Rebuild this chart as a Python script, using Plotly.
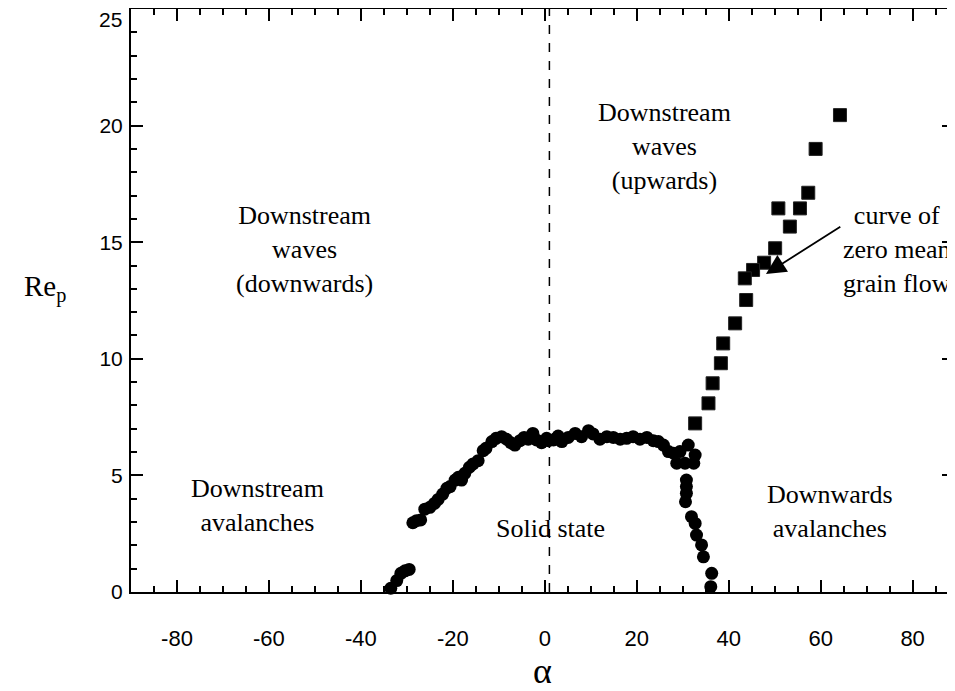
import plotly.graph_objects as go

# ---- data ----
circle_alpha = [-33.5, -32.2, -31.3, -30.4, -29.5,
                -28.7, -27.9, -27.0, -26.1, -25.0, -24.0, -23.2, -22.2, -21.3, -20.6,
                -19.5, -18.8, -18.1, -17.4, -16.4, -15.6, -14.5, -13.4, -12.8, -11.5,
                -10.6, -9.4, -8.3, -7.4, -6.5, -5.4, -4.5, -3.6, -2.6, -1.8, -0.7,
                0.4, 0.8, 1.9, 2.2, 2.9, 3.7, 5.1, 6.6, 8.0, 9.5, 10.5, 12.0, 13.5,
                14.9, 16.4, 17.8, 19.2, 20.7, 22.2, 23.6, 24.7, 25.8, 26.9, 28.0,
                29.4, 31.2, 32.7, 28.7, 30.5, 32.4,
                30.8, 30.8, 30.8, 30.6, 31.9, 32.7, 33.0, 34.1, 34.5, 36.3, 36.1]
circle_rep = [0.16, 0.49, 0.80, 0.91, 0.97,
              2.97, 3.06, 3.09, 3.55, 3.63, 3.80, 3.97, 4.20, 4.45, 4.52,
              4.80, 4.92, 4.80, 5.09, 5.35, 5.49, 5.63, 6.06, 6.16, 6.45,
              6.59, 6.66, 6.55, 6.40, 6.30, 6.49, 6.63, 6.55, 6.80, 6.52, 6.40,
              6.59, 6.49, 6.52, 6.55, 6.69, 6.45, 6.63, 6.80, 6.66, 6.92, 6.78, 6.55, 6.66,
              6.63, 6.55, 6.59, 6.66, 6.55, 6.63, 6.49, 6.45, 6.30, 6.02, 5.95,
              6.02, 6.30, 5.87, 5.52, 5.52, 5.52,
              4.80, 4.52, 4.23, 3.87, 3.23, 2.94, 2.44, 2.02, 1.51, 0.80, 0.23]

square_alpha = [64.2, 58.9, 57.3, 50.8, 55.5, 53.3, 50.1, 47.7, 45.3, 43.5,
                43.8, 41.4, 38.8, 38.3, 36.5, 35.6, 32.7]
square_rep = [20.45, 19.0, 17.12, 16.45, 16.45, 15.67, 14.74, 14.12, 13.81, 13.45,
              12.52, 11.52, 10.66, 9.81, 8.95, 8.09, 7.23]

x_tickvals = [-80, -60, -40, -20, 0, 20, 40, 60, 80]
x_ticktext = ["-80", "-60", "-40", "-20", "0", "20", "40", "60", "80"]
y_tickvals = [0, 5, 10, 15, 20, 25]
y_ticktext = ["0", "5", "10", "15", "20", ""]   # top label drawn separately (shifted down)
y_top_label = "25"

divider_alpha = 1

region_labels = [
    ("Downstream<br>waves<br>(downwards)", -52.2, 14.7),
    ("Downstream<br>waves<br>(upwards)", 26.1, 19.1),
    ("curve of<br>zero mean<br>grain flow", 76.6, 14.67),
    ("Downstream<br>avalanches", -62.4, 3.69),
    ("Solid state", 1.3, 2.74),
    ("Downwards<br>avalanches", 62.0, 3.47),
]
arrow_head = (48.1, 13.64)
arrow_tail = (64.6, 15.7)

serif = "Liberation Serif, Times New Roman, serif"
sans = "Liberation Sans, Arial, Helvetica, sans-serif"

fig = go.Figure()
fig.add_trace(go.Scatter(
    x=circle_alpha, y=circle_rep, mode="markers",
    marker=dict(symbol="circle", size=13, color="black", line=dict(width=0)),
    cliponaxis=False, showlegend=False))
fig.add_trace(go.Scatter(
    x=square_alpha, y=square_rep, mode="markers",
    marker=dict(symbol="square", size=13, color="black", line=dict(color="#222", width=1)),
    cliponaxis=False, showlegend=False))

fig.add_shape(type="line", x0=divider_alpha, x1=divider_alpha, y0=0, y1=25,
              xref="x", yref="y", line=dict(color="black", width=1.5, dash="dash"))

for txt, xx, yy in region_labels:
    fig.add_annotation(x=xx, y=yy, text=txt, showarrow=False, xref="x", yref="y",
                       xanchor="center", yanchor="middle",
                       font=dict(family=serif, size=26, color="black"), align="center")

fig.add_annotation(x=arrow_head[0], y=arrow_head[1], ax=arrow_tail[0], ay=arrow_tail[1],
                   xref="x", yref="y", axref="x", ayref="y", text="", showarrow=True,
                   arrowhead=2, arrowsize=2.2, arrowwidth=1.8, arrowcolor="black")

fig.add_annotation(x=-0.1045, y=0.5214, xref="paper", yref="paper", showarrow=False,
                   xanchor="center", yanchor="middle",
                   text="Re<sub>p</sub>", font=dict(family=serif, size=29, color="black"))
fig.add_annotation(x=0.5, y=-0.135, xref="paper", yref="paper", showarrow=False,
                   xanchor="center", yanchor="middle",
                   text="α", font=dict(family=serif, size=36, color="black"))
fig.add_annotation(x=-0.008, y=0.982, xref="paper", yref="paper", showarrow=False,
                   xanchor="right", yanchor="middle",
                   text=y_top_label, font=dict(family=sans, size=21, color="black"))

# page body has an 8px margin, so the figure is sized to fit the 955x691 window
fig.update_layout(
    width=947, height=683,
    margin=dict(l=123, r=1, t=1, b=99, autoexpand=False),
    paper_bgcolor="white", plot_bgcolor="white",
    xaxis=dict(range=[-90, 89], showgrid=False, zeroline=False, automargin=False,
               showline=True, linecolor="black", linewidth=2, mirror="allticks",
               ticks="inside", ticklen=12, tickwidth=1.5, tickcolor="black",
               tickmode="array", tickvals=x_tickvals, ticktext=x_ticktext,
               tickfont=dict(family=sans, size=22, color="black"),
               ticklabelstandoff=26,
               minor=dict(tickmode="linear", tick0=0, dtick=5, ticks="inside",
                          ticklen=6, tickwidth=1.5, tickcolor="black", showgrid=False)),
    yaxis=dict(range=[0, 25], showgrid=False, zeroline=False, automargin=False,
               showline=True, linecolor="black", linewidth=2, mirror="allticks",
               ticks="inside", ticklen=12, tickwidth=1.5, tickcolor="black",
               tickmode="array", tickvals=y_tickvals, ticktext=y_ticktext,
               tickfont=dict(family=sans, size=21, color="black"),
               ticklabelstandoff=2,
               minor=dict(tickmode="linear", tick0=0, dtick=1, ticks="inside",
                          ticklen=6, tickwidth=1.5, tickcolor="black", showgrid=False)),
)

fig.write_html("out.html")
